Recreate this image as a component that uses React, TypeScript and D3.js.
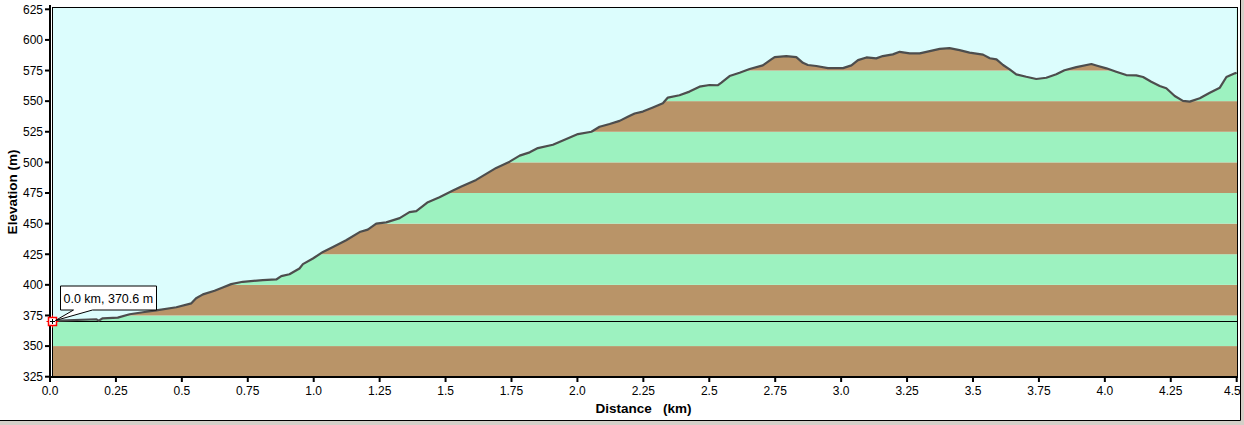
import React, { useEffect, useRef } from 'react';
import * as d3 from 'd3';

// profile (distance in km, elevation in m)
const distKm = [
  0.0, 0.175, 0.185, 0.2, 0.257, 0.302, 0.352, 0.403, 0.479, 0.536, 0.554, 0.58, 0.624, 0.655, 0.687,
  0.731, 0.807, 0.858, 0.877, 0.908, 0.946, 0.959, 0.997, 1.035, 1.073, 1.123, 1.174, 1.205, 1.237,
  1.275, 1.326, 1.363, 1.389, 1.433, 1.477, 1.528, 1.56, 1.616, 1.654, 1.692, 1.743, 1.781, 1.819,
  1.85, 1.907, 1.958, 2.002, 2.053, 2.084, 2.122, 2.16, 2.191, 2.217, 2.248, 2.286, 2.324, 2.343,
  2.387, 2.425, 2.463, 2.501, 2.533, 2.546, 2.577, 2.615, 2.653, 2.703, 2.735, 2.748, 2.792, 2.83,
  2.855, 2.874, 2.906, 2.95, 3.007, 3.039, 3.064, 3.096, 3.133, 3.158, 3.196, 3.222, 3.26, 3.298,
  3.336, 3.374, 3.411, 3.449, 3.487, 3.538, 3.564, 3.589, 3.614, 3.639, 3.664, 3.702, 3.74, 3.778,
  3.816, 3.847, 3.892, 3.949, 3.974, 4.006, 4.043, 4.081, 4.119, 4.145, 4.176, 4.208, 4.233, 4.265,
  4.296, 4.322, 4.36, 4.398, 4.436, 4.461, 4.493, 4.5,
];
const elevM = [
  370.6, 371.9, 370.8, 372.7, 373.2, 376.0, 377.6, 379.2, 381.7, 384.9, 389.0, 392.2, 395.2, 397.9, 400.6,
  402.5, 403.9, 404.4, 407.1, 408.7, 413.4, 416.9, 421.5, 426.9, 430.9, 436.4, 443.1, 445.1, 450.0,
  451.0, 454.5, 459.4, 460.2, 467.5, 471.6, 477.0, 480.3, 485.7, 490.6, 495.5, 500.6, 505.5, 508.2,
  511.7, 514.4, 519.1, 523.1, 525.0, 529.1, 531.3, 533.9, 537.2, 539.9, 541.5, 544.8, 548.3, 552.9,
  554.8, 557.8, 561.8, 563.2, 563.0, 565.1, 570.5, 573.2, 576.2, 579.2, 584.1, 586.0, 586.8, 586.0,
  581.3, 579.5, 578.7, 577.0, 577.0, 579.2, 583.5, 585.7, 584.9, 586.8, 588.2, 590.3, 589.0, 589.0,
  590.9, 592.7, 593.3, 591.7, 589.6, 588.0, 585.0, 584.1, 579.5, 576.0, 571.9, 569.9, 568.1, 569.1,
  571.9, 575.2, 577.8, 580.3, 578.7, 576.8, 574.0, 571.3, 571.1, 569.7, 565.9, 562.4, 560.5, 554.2,
  550.2, 549.6, 552.4, 556.9, 561.0, 569.7, 572.7, 573.2,
];

const xTicks = [0, 0.25, 0.5, 0.75, 1, 1.25, 1.5, 1.75, 2, 2.25, 2.5, 2.75, 3, 3.25, 3.5, 3.75, 4, 4.25, 4.5];
const xTickLabels = ['0.0', '0.25', '0.5', '0.75', '1.0', '1.25', '1.5', '1.75', '2.0', '2.25', '2.5', '2.75', '3.0', '3.25', '3.5', '3.75', '4.0', '4.25', '4.5'];
const yTicks = [325, 350, 375, 400, 425, 450, 475, 500, 525, 550, 575, 600, 625];

const cursorKm = 0.0;
const cursorElev = 370.6;

const W = 1244;
const H = 425;
const FONT = '"Liberation Sans", Arial, sans-serif';

export default function App() {
  const svgRef = useRef<SVGSVGElement>(null);

  useEffect(() => {
    if (!svgRef.current) return;
    const svg = d3.select(svgRef.current);
    svg.selectAll('*').remove();

    const plotL = 52, plotR = 1237, plotT = 7, plotB = 377;
    const x = d3.scaleLinear().domain([0, 4.5]).range([50, 1236.7]);
    const y = d3.scaleLinear().domain([325, 625]).range([376.7, 9.3]);

    const pts = distKm.map((d, i) => ({ km: d, m: elevM[i] }));

    // window frame
    svg.append('rect').attr('width', W).attr('height', H).attr('fill', '#d4d0c8');
    svg.append('rect').attr('width', 1241).attr('height', 421).attr('fill', '#ffffff');
    svg.append('path').attr('d', 'M1240.5,0V420.5H0').attr('fill', 'none').attr('stroke', '#000');

    svg.append('clipPath').attr('id', 'plot-clip')
      .append('rect').attr('x', plotL).attr('y', plotT).attr('width', plotR - plotL).attr('height', plotB - plotT);

    const g = svg.append('g').attr('clip-path', 'url(#plot-clip)');

    // elevation bands (brown / green every 25 m)
    const bands = d3.range(325, 625, 25);
    g.selectAll('.band')
      .data(bands)
      .enter().append('rect')
      .attr('x', plotL)
      .attr('width', plotR - plotL)
      .attr('y', d => y(d + 25))
      .attr('height', d => y(d) - y(d + 25))
      .attr('fill', (d, i) => (i % 2 === 0 ? '#b99468' : '#9df2c0'));

    // sky above the profile
    const sky = d3.area<{ km: number; m: number }>()
      .x(d => x(d.km))
      .y0(plotT)
      .y1(d => y(d.m));
    g.append('path').datum(pts).attr('d', sky).attr('fill', '#dcfdfd');

    // cursor line
    const cy = Math.round(y(cursorElev)) + 0.5;
    g.append('line')
      .attr('x1', plotL).attr('x2', plotR)
      .attr('y1', cy).attr('y2', cy)
      .attr('stroke', '#000').attr('stroke-width', 1);

    const line = d3.line<{ km: number; m: number }>()
      .x(d => x(d.km))
      .y(d => y(d.m));
    g.append('path').datum(pts).attr('d', line)
      .attr('fill', 'none').attr('stroke', '#4d4d4d').attr('stroke-width', 2.2)
      .attr('stroke-linejoin', 'round');

    // plot border
    svg.append('rect')
      .attr('x', plotL + 0.5).attr('y', plotT + 0.5)
      .attr('width', plotR - plotL).attr('height', plotB - plotT)
      .attr('fill', 'none').attr('stroke', '#000');

    // axes
    const yAxis = svg.append('g');
    yAxis.append('line').attr('x1', 50).attr('x2', 50).attr('y1', 5).attr('y2', 378)
      .attr('stroke', '#000').attr('stroke-width', 2);
    yAxis.selectAll('.ytick')
      .data(yTicks)
      .enter().append('line')
      .attr('x1', 45).attr('x2', 50)
      .attr('y1', d => y(d)).attr('y2', d => y(d))
      .attr('stroke', '#000').attr('stroke-width', 2);
    yAxis.selectAll('.ylab')
      .data(yTicks)
      .enter().append('text')
      .attr('x', 43)
      .attr('y', d => y(d))
      .attr('dy', '0.36em')
      .attr('text-anchor', 'end')
      .style('font-family', FONT)
      .style('font-size', '12px')
      .text(d => String(d));

    const xAxis = svg.append('g');
    xAxis.append('line').attr('x1', 49).attr('x2', 1238).attr('y1', 377).attr('y2', 377)
      .attr('stroke', '#000').attr('stroke-width', 2);
    xAxis.selectAll('.xtick')
      .data(xTicks)
      .enter().append('line')
      .attr('x1', d => x(d)).attr('x2', d => x(d))
      .attr('y1', 377).attr('y2', 382)
      .attr('stroke', '#000').attr('stroke-width', 2);
    xAxis.selectAll('.xlab')
      .data(xTicks)
      .enter().append('text')
      .attr('x', d => x(d))
      .attr('y', 395)
      .attr('text-anchor', (d, i) => (i === xTicks.length - 1 ? 'end' : 'middle'))
      .attr('dx', (d, i) => (i === xTicks.length - 1 ? 4 : 0))
      .style('font-family', FONT)
      .style('font-size', '12px')
      .text((d, i) => xTickLabels[i]);

    svg.append('text')
      .attr('x', 643.5).attr('y', 413)
      .attr('text-anchor', 'middle')
      .style('font-family', FONT).style('font-size', '13.5px').style('font-weight', 'bold')
      .style('white-space', 'pre')
      .text('Distance   (km)');

    svg.append('text')
      .attr('transform', 'translate(17,192) rotate(-90)')
      .attr('text-anchor', 'middle')
      .style('font-family', FONT).style('font-size', '13.5px').style('font-weight', 'bold')
      .text('Elevation (m)');

    // cursor marker + callout
    const mx = x(cursorKm) + 2.5;
    const my = cy;
    const m = svg.append('g');
    m.append('path')
      .attr('d', `M${mx - 6},${my}H${mx + 6}M${mx},${my - 6}V${my + 6}`)
      .attr('stroke', '#ff0000').attr('stroke-width', 1);
    m.append('rect')
      .attr('x', mx - 4).attr('y', my - 4).attr('width', 8).attr('height', 8)
      .attr('fill', '#ffffff').attr('stroke', '#ff0000').attr('stroke-width', 1.5);
    m.append('path')
      .attr('d', `M${mx - 2.5},${my}H${mx + 2.5}M${mx},${my - 2.5}V${my + 2.5}`)
      .attr('stroke', '#000').attr('stroke-width', 1);

    const bx = mx + 8, by = my - 35.5;
    m.append('path')
      .attr('d', `M${bx},${by}H${bx + 96}V${by + 24}H${bx + 32}L${mx + 3},${my - 1}L${bx + 13},${by + 24}H${bx}Z`)
      .attr('fill', '#ffffff').attr('stroke', '#000').attr('stroke-width', 1);
    m.append('text')
      .attr('x', bx + 3).attr('y', by + 17)
      .style('font-family', FONT).style('font-size', '12.5px')
      .text(`${cursorKm.toFixed(1)} km, ${cursorElev.toFixed(1)} m`);
  }, []);

  return (
    <svg ref={svgRef} width={W} height={H} style={{ position: 'absolute', left: 0, top: 0 }} />
  );
}
